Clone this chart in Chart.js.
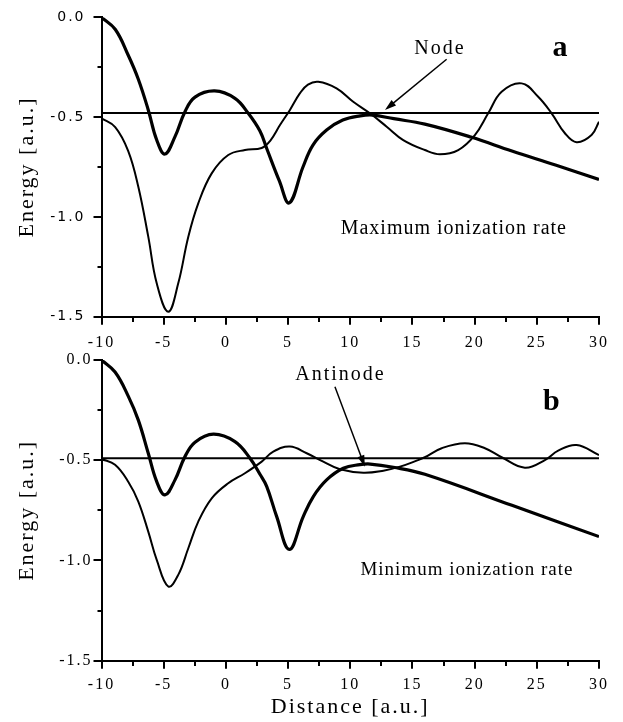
<!DOCTYPE html>
<html>
<head>
<meta charset="utf-8">
<title>Energy vs distance</title>
<script src="https://cdn.jsdelivr.net/npm/chart.js@4.4.0/dist/chart.umd.min.js"></script>
<style>
  html, body { margin: 0; padding: 0; background: #fff; }
  canvas { position: absolute; left: 0; }
  #chartA { top: 0; }
  #chartB { top: 350px; }
</style>
</head>
<body>
<canvas id="chartA" width="623" height="350"></canvas>
<canvas id="chartB" width="623" height="372"></canvas>
<script>
// axis tick labels
var distanceTicks = [-10, -5, 0, 5, 10, 15, 20, 25, 30];
var energyTicks = [-1.5, -1.0, -0.5, 0.0];

// panel a - maximum ionization rate
var thickAX = [-10, -8.9, -7.85, -7.04, -6.24, -5.56, -4.9, -4.09, -3.29, -2.48, -0.9, 0.73, 1.8, 2.74, 3.3, 4.3, 5.1, 6.2, 7.0, 8.1, 9.4, 10.8, 11.8, 13.5, 16, 19.7, 23, 26.5, 30];
var thickAY = [0, -0.06, -0.19, -0.31, -0.464, -0.615, -0.685, -0.598, -0.473, -0.40, -0.369, -0.406, -0.481, -0.57, -0.66, -0.82, -0.93, -0.75, -0.64, -0.565, -0.515, -0.494, -0.49, -0.508, -0.535, -0.60, -0.67, -0.74, -0.812];
var thinAX = [-10, -8.9, -7.85, -7.04, -6.24, -5.56, -4.63, -3.83, -3.02, -2.22, -1.14, 0.19, 1.53, 2.88, 3.55, 4.35, 5.15, 5.96, 6.6, 7.43, 8.9, 10.24, 11.58, 12.93, 14.26, 16.0, 17.21, 18.68, 20.02, 21.09, 22.17, 23.78, 25.11, 26.19, 27.26, 28.2, 29.4, 30];
var thinAY = [-0.506, -0.55, -0.67, -0.849, -1.099, -1.333, -1.475, -1.333, -1.099, -0.932, -0.782, -0.69, -0.665, -0.655, -0.62, -0.54, -0.464, -0.38, -0.337, -0.323, -0.356, -0.423, -0.481, -0.548, -0.615, -0.665, -0.686, -0.665, -0.59, -0.481, -0.373, -0.331, -0.398, -0.481, -0.581, -0.626, -0.59, -0.523];
var levelA = -0.48;

// panel b - minimum ionization rate
var thickBX = [-10, -8.91, -7.85, -7.04, -6.24, -5.56, -4.9, -4.09, -3.29, -2.48, -1.0, 0.73, 1.94, 2.74, 3.28, 4.08, 5.1, 6.22, 7.03, 8.1, 9.44, 10.78, 11.6, 13.46, 16, 23, 30];
var thickBY = [0, -0.06, -0.18, -0.30, -0.465, -0.607, -0.673, -0.598, -0.482, -0.41, -0.37, -0.407, -0.49, -0.57, -0.63, -0.78, -0.945, -0.781, -0.681, -0.598, -0.54, -0.522, -0.519, -0.535, -0.57, -0.725, -0.881];
var thinBX = [-10, -8.91, -7.85, -7.04, -6.24, -5.56, -4.63, -3.83, -3.02, -2.22, -1.14, 0.19, 1.53, 2.88, 3.81, 5.15, 6.5, 7.83, 9.17, 11.05, 12.66, 14.0, 15.34, 16.0, 17.35, 19.22, 20.83, 22.17, 24.04, 25.65, 26.72, 28.2, 30];
var thinBY = [-0.494, -0.523, -0.607, -0.706, -0.856, -0.997, -1.13, -1.072, -0.939, -0.806, -0.69, -0.615, -0.565, -0.507, -0.457, -0.432, -0.465, -0.507, -0.545, -0.562, -0.552, -0.532, -0.502, -0.485, -0.44, -0.415, -0.44, -0.485, -0.537, -0.499, -0.452, -0.424, -0.474];
var levelB = -0.49;

function pts(xs, ys) {
    return xs.map(function (x, i) { return { x: x, y: ys[i] }; });
}

function isLabel(v, list) {
    return list.some(function (t) { return Math.abs(t - v) < 1e-6; });
}

function curve(xs, ys, width) {
    return {
        data: pts(xs, ys),
        borderColor: '#000',
        borderWidth: width,
        pointRadius: 0,
        fill: false,
        tension: 0.4
    };
}

function level(y) {
    var ends = [distanceTicks[0], distanceTicks[distanceTicks.length - 1]];
    return curve(ends, [y, y], 2);
}

// texts and arrows drawn in data coordinates
function notes(labels, arrows) {
    return {
        id: 'notes',
        beforeDraw: function (chart) {
            chart.ctx.letterSpacing = '2px';
        },
        afterDraw: function (chart) {
            var ctx = chart.ctx, sx = chart.scales.x, sy = chart.scales.y;
            ctx.save();
            ctx.fillStyle = '#000';
            ctx.strokeStyle = '#000';
            ctx.textAlign = 'center';
            ctx.textBaseline = 'middle';
            labels.forEach(function (l) {
                ctx.font = l.font;
                ctx.letterSpacing = l.spacing;
                ctx.fillText(l.text, sx.getPixelForValue(l.x), sy.getPixelForValue(l.y));
            });
            arrows.forEach(function (a) {
                var x1 = sx.getPixelForValue(a[0]), y1 = sy.getPixelForValue(a[1]);
                var x2 = sx.getPixelForValue(a[2]), y2 = sy.getPixelForValue(a[3]);
                var ang = Math.atan2(y2 - y1, x2 - x1);
                ctx.lineWidth = 1.5;
                ctx.beginPath();
                ctx.moveTo(x1, y1);
                ctx.lineTo(x2 - 8 * Math.cos(ang), y2 - 8 * Math.sin(ang));
                ctx.stroke();
                ctx.beginPath();
                ctx.moveTo(x2, y2);
                ctx.lineTo(x2 - 12 * Math.cos(ang - 0.3), y2 - 12 * Math.sin(ang - 0.3));
                ctx.lineTo(x2 - 12 * Math.cos(ang + 0.3), y2 - 12 * Math.sin(ang + 0.3));
                ctx.closePath();
                ctx.fill();
            });
            ctx.restore();
            ctx.letterSpacing = '0px';
        }
    };
}

function scales(p) {
    return {
        x: {
            type: 'linear',
            min: distanceTicks[0],
            max: distanceTicks[distanceTicks.length - 1],
            border: { color: '#000', width: 2 },
            grid: {
                drawOnChartArea: false,
                color: '#000',
                lineWidth: 2,
                tickLength: 8,
                tickBorderDash: function (c) {
                    return isLabel(c.tick.value, distanceTicks) ? [] : [4, 40];
                }
            },
            ticks: {
                stepSize: 2.5,
                autoSkip: false,
                maxRotation: 0,
                color: '#000',
                padding: p.xPad,
                font: { family: 'Liberation Serif', size: 16, lineHeight: 1 },
                callback: function (v) { return isLabel(v, distanceTicks) ? String(v) : ''; }
            },
            title: {
                display: p.xTitle,
                text: 'Distance [a.u.]',
                color: '#000',
                padding: { top: 0, bottom: 2 },
                font: { family: 'Liberation Serif', size: 22 }
            },
            afterFit: function (s) { s.height = p.xHeight; }
        },
        y: {
            min: energyTicks[0],
            max: energyTicks[energyTicks.length - 1],
            border: { color: '#000', width: 2 },
            grid: {
                drawOnChartArea: false,
                color: '#000',
                lineWidth: 2,
                tickLength: 8,
                tickBorderDash: function (c) {
                    return isLabel(c.tick.value, energyTicks) ? [] : [0, 4, 4, 40];
                }
            },
            ticks: {
                stepSize: 0.25,
                autoSkip: false,
                color: '#000',
                padding: p.yPad,
                font: p.yFont,
                callback: function (v) { return isLabel(v, energyTicks) ? v.toFixed(1) : ''; }
            },
            title: {
                display: true,
                text: 'Energy [a.u.]',
                color: '#000',
                padding: { top: 14, bottom: 0 },
                font: { family: 'Liberation Serif', size: 22 }
            },
            afterFit: function (s) { s.width = 101.5; }
        }
    };
}

var plainOptions = {
    responsive: false,
    animation: false,
    plugins: { legend: { display: false }, tooltip: { enabled: false } }
};

var ctxA = document.getElementById('chartA').getContext('2d');
var chartA = new Chart(ctxA, {
    type: 'line',
    data: {
        datasets: [curve(thinAX, thinAY, 2), curve(thickAX, thickAY, 3.2), level(levelA)]
    },
    options: Object.assign({}, plainOptions, {
        layout: { padding: { top: 17.3, right: 24, bottom: 0, left: 0 } },
        scales: scales({ xPad: 10, xHeight: 33.3, xTitle: false, yPad: 8,
            yFont: { family: 'DejaVu Sans', size: 14, lineHeight: 1 } })
    }),
    plugins: [notes([
        { text: 'Node', x: 17.21, y: -0.156, font: '20px "Liberation Serif"', spacing: '2px' },
        { text: 'a', x: 26.86, y: -0.156, font: 'bold 30px "Liberation Serif"', spacing: '0px' },
        { text: 'Maximum ionization rate', x: 18.33, y: -1.058, font: '20px "Liberation Serif"', spacing: '1px' }
    ], [
        [17.75, -0.21, 12.79, -0.464]
    ])]
});

var ctxB = document.getElementById('chartB').getContext('2d');
var chartB = new Chart(ctxB, {
    type: 'line',
    data: {
        datasets: [curve(thinBX, thinBY, 2), curve(thickBX, thickBY, 3.2), level(levelB)]
    },
    options: Object.assign({}, plainOptions, {
        layout: { padding: { top: 10, right: 24, bottom: 0, left: 0 } },
        scales: scales({ xPad: 8, xHeight: 61.3, xTitle: true, yPad: 1,
            yFont: { family: 'Liberation Serif', size: 16, lineHeight: 1 } })
    }),
    plugins: [notes([
        { text: 'Antinode', x: 9.21, y: -0.075, font: '20px "Liberation Serif"', spacing: '2px' },
        { text: 'b', x: 26.17, y: -0.212, font: 'bold 30px "Liberation Serif"', spacing: '0px' },
        { text: 'Minimum ionization rate', x: 19.38, y: -1.047, font: '19px "Liberation Serif"', spacing: '1px' }
    ], [
        [8.77, -0.133, 11.18, -0.532]
    ])]
});
</script>
</body>
</html>
